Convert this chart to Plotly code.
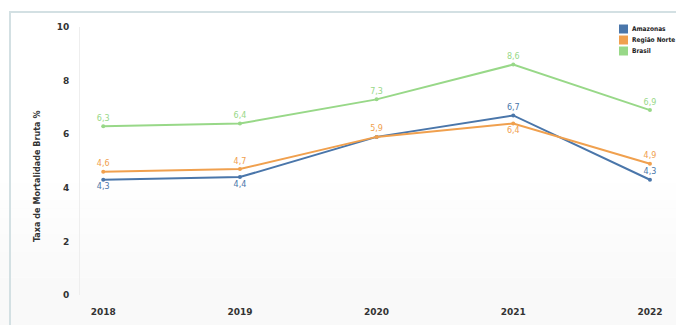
import plotly.graph_objects as go

anos = [2018, 2019, 2020, 2021, 2022]
amazonas = [4.3, 4.4, 5.9, 6.7, 4.3]
regiao_norte = [4.6, 4.7, 5.9, 6.4, 4.9]
brasil = [6.3, 6.4, 7.3, 8.6, 6.9]
series_names = ["Amazonas", "Região Norte", "Brasil"]

pos_amazonas = ["bottom center", "bottom center", "bottom center", "top center", "top center"]
txt_amazonas = ["4,3", "4,4", "", "6,7", "4,3"]
pos_norte = ["top center", "top center", "top center", "bottom center", "top center"]
pos_brasil = ["top center"] * 5

c_am = "#4a76aa"
c_no = "#f0a04e"
c_br = "#98d888"
colors = [c_am, c_no, c_br]

W, H = 676, 325
L, R, T, B = 80, 11, 27, 30
PW, PH = W - L - R, H - T - B
fig = go.Figure()

def add(name, y, color, pos, text=None):
    fig.add_trace(go.Scatter(
        x=anos, y=y, name=name, mode="lines+markers+text",
        line=dict(color=color, width=2),
        marker=dict(color=color, size=4),
        text=text, texttemplate=None if text else "%{y:.1f}",
        textposition=pos,
        textfont=dict(color=color, size=8, family="DejaVu Sans"),
        cliponaxis=False, showlegend=False,
    ))

add("Amazonas", amazonas, c_am, pos_amazonas, txt_amazonas)
add("Região Norte", regiao_norte, c_no, pos_norte)
add("Brasil", brasil, c_br, pos_brasil)

def px_x(x):
    return (x - L) / PW

def px_y(y):
    return (H - B - y) / PH

shapes = []
bands = 14
for i in range(bands):
    y0 = 0.45 * i / bands
    y1 = 0.45 * (i + 1) / bands
    a = 0.06 * (1 - i / bands)
    shapes.append(dict(type="rect", xref="paper", yref="paper", x0=-1, x1=2,
                       y0=y0 - 0.2 if i == 0 else y0, y1=y1,
                       fillcolor=f"rgba(150,150,150,{a:.3f})", line=dict(width=0), layer="below"))
shapes.append(dict(type="rect", xref="paper", yref="paper",
                   x0=px_x(10), x1=px_x(700), y0=px_y(340), y1=px_y(12),
                   line=dict(color="#d3e0e3", width=2), fillcolor="rgba(0,0,0,0)", layer="below"))

annotations = []
# custom legend
for i, (nm, col) in enumerate(zip(series_names, colors)):
    yc = 29 + 11 * i
    shapes.append(dict(type="rect", xref="paper", yref="paper",
                       x0=px_x(619), x1=px_x(628), y0=px_y(yc + 4.5), y1=px_y(yc - 4.5),
                       fillcolor=col, line=dict(width=0)))
    annotations.append(dict(xref="paper", yref="paper", x=px_x(630), y=px_y(yc),
                            xanchor="left", yanchor="middle", showarrow=False, text=nm,
                            font=dict(size=6.5, color="#222", family="DejaVu Sans Condensed",
                                      weight="bold")))
annotations.append(dict(xref="paper", yref="paper", x=px_x(37), y=px_y(176),
                        xanchor="center", yanchor="middle", showarrow=False, textangle=-90,
                        text="Taxa de Mortalidade Bruta %",
                        font=dict(size=9, color="#333", family="DejaVu Sans Condensed",
                                  weight="bold")))

fig.update_layout(
    width=W, height=H,
    margin=dict(l=L, r=R, t=T, b=B, autoexpand=False),
    paper_bgcolor="white", plot_bgcolor="rgba(0,0,0,0)",
    separators=",.",
    font=dict(family="DejaVu Sans", color="#333"),
    shapes=shapes, annotations=annotations, showlegend=False,
)
fig.update_xaxes(range=[2017.83, 2022.11], tickvals=anos, ticktext=[str(a) for a in anos],
                 showgrid=False, zeroline=False, showline=False,
                 tickfont=dict(size=9, color="#333", family="DejaVu Sans", weight="bold"),
                 ticks="", ticklabelstandoff=10)
fig.update_yaxes(range=[0, 10], tickvals=[0, 2, 4, 6, 8, 10],
                 showgrid=False, zeroline=False, showline=True, linecolor="#eeeeee", linewidth=1,
                 tickfont=dict(size=9, color="#333", family="DejaVu Sans", weight="bold"),
                 ticks="", ticklabelstandoff=8)

fig.write_html("out.html", config={"displayModeBar": False},
               post_script="document.body.style.margin='0';document.body.style.overflow='hidden';")
